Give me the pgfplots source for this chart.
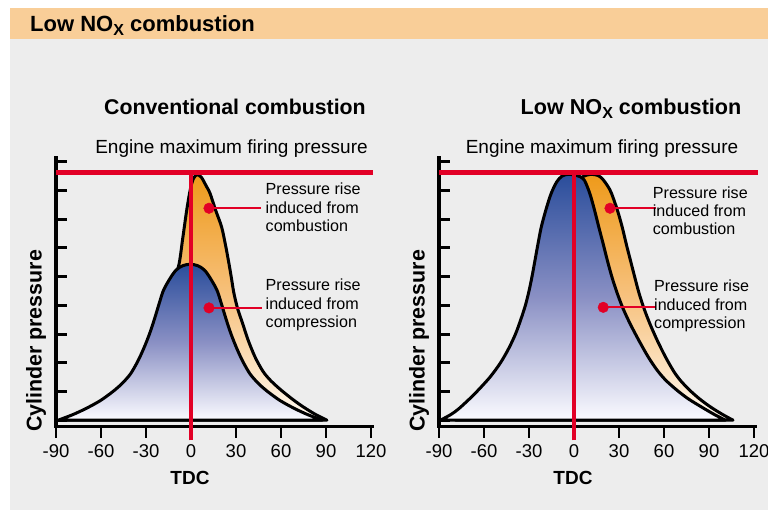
\documentclass[border=0pt]{standalone}
\usepackage{pgfplots}
\pgfplotsset{compat=1.18}
\usepackage{fontspec}
\setmainfont{Liberation Sans}

\definecolor{bannerorange}{RGB}{249,206,152}
\definecolor{panelgray}{RGB}{237,237,237}
\definecolor{firered}{RGB}{226,0,38}
\definecolor{bluetop}{RGB}{42,77,155}
\definecolor{bluemid}{RGB}{138,144,196}
\definecolor{bluebot}{RGB}{251,251,255}
\definecolor{orangetop}{RGB}{238,154,26}
\definecolor{orangemid}{RGB}{247,194,127}
\definecolor{orangebot}{RGB}{255,249,240}

\newcommand{\ann}{\fontsize{16.1}{19}\selectfont}
\newcommand{\subX}[1]{\raisebox{-3.8pt}{\fontsize{#1}{#1}\selectfont X}}

\pgfplotsset{
  pressure/.style={
    scale only axis, width=316.5pt, height=268.5pt,
    xmin=-90, xmax=121, ymin=-0.22, ymax=9.13,
    axis lines*=left,
    axis line style={line width=3.5pt, line cap=rect},
    xtick={-90,-60,-30,0,30,60,90,120},
    xticklabels={-90,-60,-30,0,30,60,90,120},
    ytick={0,1,2,3,4,5,6,7,8,9},
    yticklabels={},
    xtick align=outside, ytick align=inside,
    major tick length=11pt,
    x tick style={line width=2pt, black},
    y tick style={line width=3pt, black},
    xticklabel style={font=\fontsize{18.5}{20}\selectfont, yshift=-4pt},
    clip=false,
  },
  curve/.style={smooth, line width=3pt, draw=black, line join=round},
  bluefill/.style={top color=bluetop, bottom color=bluebot, middle color=bluemid},
  orangefill/.style={top color=orangetop, bottom color=orangebot, middle color=orangemid},
}

\begin{document}
\begin{tikzpicture}
\useasboundingbox (0pt,0pt) rectangle (768pt,514pt);
\fill[white] (0pt,0pt) rectangle (768pt,514pt);
\fill[panelgray] (10pt,4pt) rectangle (768pt,475pt);
\fill[bannerorange] (10pt,475pt) rectangle (768pt,506pt);
\node[anchor=base west, inner sep=0, font=\bfseries\fontsize{22}{22}\selectfont] at (30pt,482.3pt) {Low NO\subX{16}{} combustion};

% conventional combustion
\begin{axis}[pressure, at={(56pt,87.5pt)}, anchor=south west]
\addplot[curve, orangefill] coordinates {
 (-84,0) (-64,0.42) (-48,0.98) (-36.5,1.6) (-28,2.5) (-21,3.5) (-14.5,4.53)
 (-8.4,5.34) (-5.6,6.3) (-2.9,7.3) (-0.6,8.0) (1.5,8.4) (4,8.55) (7,8.45)
 (10.4,8.13) (12.7,7.9) (16.5,7.3) (20.4,6.73) (23,6.1) (24.9,5.57) (26.8,5.0)
 (28.5,4.45) (31,3.9) (34.4,3.37) (38,2.8) (42.7,2.2) (48,1.7) (53.1,1.38)
 (60,1.05) (67.9,0.72) (74.9,0.46) (83,0.2) (90.6,0)
} -- cycle;
\addplot[curve, bluefill] coordinates {
 (-88.5,0) (-78.5,0.2) (-69.5,0.42) (-60.5,0.68) (-52.5,0.98) (-46.5,1.25)
 (-40.5,1.6) (-35.5,2.05) (-31.5,2.5) (-27.7,3.0) (-24.5,3.5) (-21,4.1)
 (-18.3,4.53) (-13.8,4.95) (-9.9,5.23) (-5.5,5.38) (-0.5,5.43) (4.5,5.38)
 (8.9,5.23) (12.8,4.95) (17.3,4.53) (20,4.1) (23.5,3.5) (26.7,3.0) (30.5,2.5)
 (34.5,2.05) (39.5,1.6) (45.5,1.25) (51.5,0.98) (59.5,0.68) (68.5,0.42)
 (77.5,0.2) (87.5,0)
} -- cycle;
\addplot[firered, line width=1.8pt] coordinates {(12,7.38) (46.7,7.38)};
\addplot[firered, line width=1.8pt] coordinates {(12,3.91) (47.1,3.91)};
\addplot[firered, only marks, mark=*, mark size=5.3pt] coordinates {(12,7.38) (12,3.91)};
\coordinate (LV0) at (axis cs:0,-0.7);
\coordinate (LV1) at (axis cs:0,8.62);
\coordinate (LH0) at (axis cs:-90,8.62);
\coordinate (LH1) at (axis cs:121,8.62);
\end{axis}
\draw[firered, line width=4.3pt] (LH0) -- (LH1);
\draw[firered, line width=4.3pt] (LV0) -- (LV1);

% low NOx combustion
\begin{axis}[pressure, at={(439pt,87.5pt)}, anchor=south west]
\addplot[curve, orangefill] coordinates {
 (-79,0) (-67,0.39) (-55,1.0) (-39,2.0) (-29.5,3.0) (-22.4,4.0) (-17.5,5.0)
 (-13,6.0) (-8,7.0) (-3,7.8) (2,8.3) (6,8.48) (9,8.54) (12,8.56) (16,8.52)
 (19,8.4) (22.5,8.15) (25,7.9) (29,7.3) (32.1,6.73) (35,6.1) (37.6,5.57)
 (40.4,5.0) (43.2,4.45) (46.6,3.9) (50.5,3.37) (55.3,2.8) (61,2.2) (66.5,1.7)
 (71,1.38) (77,1.05) (83.5,0.75) (91,0.46) (99,0.2) (106,0)
} -- cycle;
\addplot[curve, bluefill] coordinates {
 (-89,0) (-82,0.2) (-77,0.39) (-70.5,0.7) (-64.7,1.0) (-56,1.5) (-49,2.0)
 (-43.5,2.5) (-39,3.0) (-35.5,3.5) (-32.4,4.0) (-30,4.5) (-28,5.0) (-26,5.57)
 (-23.8,6.2) (-21.8,6.73) (-18.6,7.35) (-15.2,7.9) (-11.5,8.3) (-8,8.5)
 (-4,8.56) (0,8.54) (4,8.48) (7,8.35) (10.5,7.9) (13.5,7.35) (16.5,6.73)
 (19.4,6.15) (22.2,5.57) (25.2,5.0) (28.6,4.45) (32.6,3.9) (37.3,3.37)
 (43,2.8) (49.5,2.2) (55.3,1.75) (61,1.4) (68.5,1.05) (76,0.75) (85,0.46)
 (93.5,0.2) (101,0)
} -- cycle;
\addplot[firered, line width=1.8pt] coordinates {(24,7.38) (54.5,7.38)};
\addplot[firered, line width=1.8pt] coordinates {(19.5,3.93) (54.5,3.93)};
\addplot[firered, only marks, mark=*, mark size=5.3pt] coordinates {(24,7.38) (19.5,3.93)};
\coordinate (RV0) at (axis cs:0,-0.7);
\coordinate (RV1) at (axis cs:0,8.62);
\coordinate (RH0) at (axis cs:-90,8.62);
\coordinate (RH1) at (axis cs:122.7,8.62);
\end{axis}
\draw[firered, line width=4.3pt] (RH0) -- (RH1);
\draw[firered, line width=4.3pt] (RV0) -- (RV1);

% titles and labels
\node[anchor=base, inner sep=0, font=\bfseries\fontsize{21.3}{21.3}\selectfont] at (235pt,399.5pt) {Conventional combustion};
\node[anchor=base, inner sep=0, font=\bfseries\fontsize{21.6}{21.6}\selectfont] at (631pt,399.5pt) {Low NO\subX{16}{} combustion};
\node[anchor=base, inner sep=0, font=\fontsize{19}{19}\selectfont] at (231.5pt,360.5pt) {Engine maximum firing pressure};
\node[anchor=base, inner sep=0, font=\fontsize{19}{19}\selectfont] at (602pt,360.5pt) {Engine maximum firing pressure};
\node[anchor=base, rotate=90, inner sep=0, font=\bfseries\fontsize{21.4}{21.4}\selectfont] at (41.5pt,173pt) {Cylinder pressure};
\node[anchor=base, rotate=90, inner sep=0, font=\bfseries\fontsize{21.4}{21.4}\selectfont] at (424.5pt,173pt) {Cylinder pressure};
\node[anchor=center, inner sep=0, font=\bfseries\fontsize{19}{19}\selectfont] at (190pt,36pt) {TDC};
\node[anchor=center, inner sep=0, font=\bfseries\fontsize{19}{19}\selectfont] at (573pt,36pt) {TDC};

\node[anchor=base west, inner sep=0, font=\ann] at (265.5pt,319.7pt) {Pressure rise};
\node[anchor=base west, inner sep=0, font=\ann] at (265.5pt,300.7pt) {induced from};
\node[anchor=base west, inner sep=0, font=\ann] at (265.5pt,282.2pt) {combustion};
\node[anchor=base west, inner sep=0, font=\ann] at (265.5pt,223.5pt) {Pressure rise};
\node[anchor=base west, inner sep=0, font=\ann] at (265.5pt,204.8pt) {induced from};
\node[anchor=base west, inner sep=0, font=\ann] at (265.5pt,186.3pt) {compression};

\node[anchor=base west, inner sep=0, font=\ann] at (652.7pt,315.7pt) {Pressure rise};
\node[anchor=base west, inner sep=0, font=\ann] at (652.7pt,297.3pt) {induced from};
\node[anchor=base west, inner sep=0, font=\ann] at (652.7pt,279pt) {combustion};
\node[anchor=base west, inner sep=0, font=\ann] at (654pt,222.3pt) {Pressure rise};
\node[anchor=base west, inner sep=0, font=\ann] at (654pt,203.3pt) {induced from};
\node[anchor=base west, inner sep=0, font=\ann] at (654pt,185.7pt) {compression};
\end{tikzpicture}
\end{document}
